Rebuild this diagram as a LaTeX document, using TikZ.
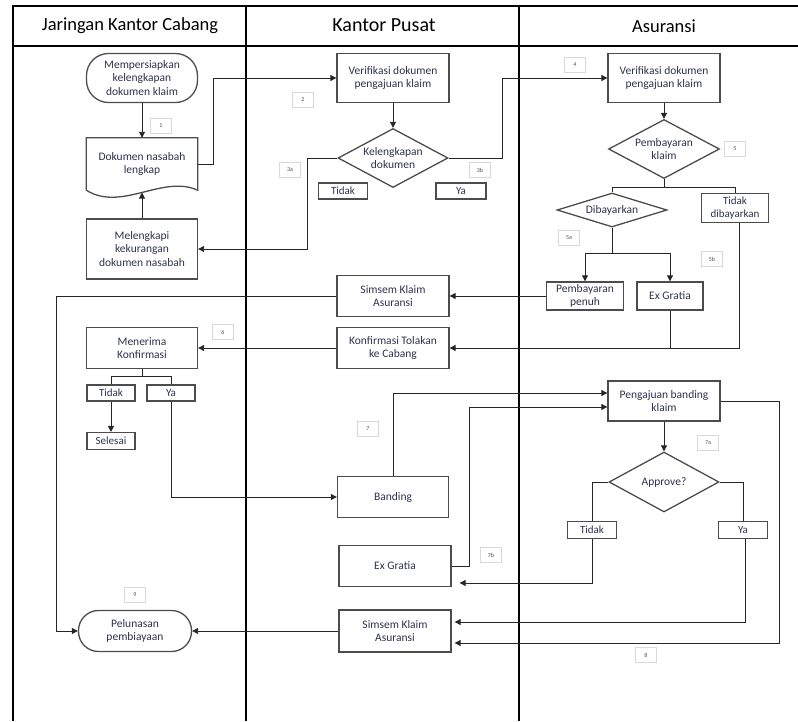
\documentclass[tikz,border=0pt]{standalone}
\usepackage{fontspec}
\setmainfont{Carlito}
\usetikzlibrary{shapes.geometric,arrows.meta}
\definecolor{txtc}{RGB}{45,50,75}

\begin{document}
\begin{tikzpicture}[x=1pt,y=-1pt,
	every node/.style={inner sep=0pt,text=txtc,font=\fontsize{11.5}{13.5}\selectfont,align=center},
	frame/.style={line width=1.6pt,black},
	box/.style={draw=black!70,line width=1.3pt,minimum width=111pt,minimum height=41pt},
	term/.style={box,rounded corners=20pt},
	dec/.style={draw=black!70,line width=1.3pt,diamond,aspect=1.9,minimum width=110pt,minimum height=59pt},
	tag/.style={draw=black!70,line width=1.2pt,minimum width=49pt,minimum height=16pt,font=\fontsize{11}{13}\selectfont},
	num/.style={draw=black!15,line width=0.6pt,minimum width=21pt,minimum height=15pt,font=\fontsize{6}{7}\selectfont,text=black!70},
	conn/.style={line width=0.9pt,black!85},
	arr/.style={conn,-{Triangle[length=6pt,width=6pt]}}]
	\useasboundingbox (0,0) rectangle (798,721);
	\draw[frame] (13,721) -- (13,6) -- (798,6);
	\draw[frame] (13,46) -- (798,46);
	\draw[frame] (246,6) -- (246,721);
	\draw[frame] (519,6) -- (519,721);
	\node[font=\fontsize{18.5}{22}\selectfont,text=black] (hCabang) at (130,26) {Jaringan Kantor Cabang};
	\node[font=\fontsize{20}{24}\selectfont,text=black] (hPusat) at (384,25) {Kantor Pusat};
	\node[font=\fontsize{18.5}{22}\selectfont,text=black] (hAsuransi) at (664,26) {Asuransi};

	\node[term,minimum height=49pt,rounded corners=22pt] (mulai) at (142,78) {Mempersiapkan\\kelengkapan\\dokumen klaim};
	\node[minimum width=111pt,minimum height=52pt] (dokumen) at (142,164) {Dokumen nasabah\\lengkap};
	\draw[draw=black!70,line width=1.3pt] (dokumen.south west) -- (dokumen.north west) -- (dokumen.north east) -- (dokumen.south east)
		.. controls ++(-35,-16) and ++(35,22) .. (dokumen.south west);
	\coordinate (gelombang) at (142,192.5);
	\node[box,minimum height=60pt] (melengkapi) at (142,249) {Melengkapi\\kekurangan\\dokumen nasabah};
	\node[num] (n1) at (161,126) {1};

	\node[box,minimum width=112pt,minimum height=49pt] (verPusat) at (393,78) {Verifikasi dokumen\\pengajuan klaim};
	\node[num] (n2) at (303,100) {2};
	\node[dec] (lengkap) at (393,158) {Kelengkapan\\dokumen};
	\node[tag] (tidakA) at (343,191) {Tidak};
	\node[tag,minimum width=50pt] (yaA) at (461,191) {Ya};
	\node[num] (n3a) at (290,170) {3a};
	\node[num] (n3b) at (480,170) {3b};

	\node[box,minimum width=112pt,minimum height=49pt] (verAsuransi) at (664,78) {Verifikasi dokumen\\pengajuan klaim};
	\node[num] (n4) at (575,65) {4};
	\node[dec,minimum width=111pt] (bayarKlaim) at (664,149) {Pembayaran\\klaim};
	\node[num] (n5) at (735,149) {5};
	\node[dec,aspect=3.2,minimum width=110pt,minimum height=34pt] (dibayar) at (612,210) {Dibayarkan};
	\node[tag,minimum width=67pt,minimum height=29pt] (tidakBayar) at (735,208) {Tidak\\dibayarkan};
	\node[num] (n5a) at (569,238) {5a};
	\node[num] (n5b) at (712,259) {5b};
	\node[box,minimum width=77pt,minimum height=28pt] (penuh) at (585,296) {Pembayaran\\penuh};
	\node[box,minimum width=66pt,minimum height=28pt] (exGratiaA) at (670,296) {Ex Gratia};

	\node[box,minimum width=112pt] (simsemA) at (393,296) {Simsem Klaim\\Asuransi};
	\node[box,minimum width=112pt] (tolakan) at (393,348) {Konfirmasi Tolakan\\ke Cabang};
	\node[box] (menerima) at (142,348) {Menerima\\Konfirmasi};
	\node[num] (n6) at (223,332) {6};
	\node[tag,minimum width=48pt] (tidakB) at (111,393) {Tidak};
	\node[tag,minimum width=48pt] (yaB) at (171,393) {Ya};
	\node[tag,minimum width=48pt,minimum height=17pt] (selesai) at (111,441) {Selesai};

	\node[box] (banding) at (393,497) {Banding};
	\node[num] (n7) at (368,429) {7};
	\node[box,minimum width=112pt] (exGratiaB) at (395,566) {Ex Gratia};
	\node[num] (n7b) at (491,555) {7b};
	\node[box,minimum width=112pt,minimum height=42pt] (simsemB) at (395,631) {Simsem Klaim\\Asuransi};
	\node[term,minimum width=113pt] (pelunasan) at (135,631) {Pelunasan\\pembiayaan};
	\node[num] (n9) at (135,595) {9};

	\node[box,minimum width=112pt,minimum height=40pt] (banding2) at (664,401) {Pengajuan banding\\klaim};
	\node[num] (n7a) at (708,443) {7a};
	\node[dec,minimum height=60pt] (approve) at (664,482) {Approve?};
	\node[tag,minimum height=17pt] (tidakC) at (592,530) {Tidak};
	\node[tag,minimum height=17pt] (yaC) at (743,530) {Ya};
	\node[num] (n8) at (646,655) {8};

	\draw[arr] (mulai) -- (dokumen);
	\draw[arr] (melengkapi) -- (gelombang);
	\draw[arr] (dokumen.east) -- ++(16,0) |- (verPusat.west);
	\draw[arr] (verPusat) -- (lengkap);
	\draw[arr] (lengkap.west) -- ++(-30,0) |- (melengkapi.east);
	\draw[arr] (lengkap.east) -- ++(54,0) |- (verAsuransi.west);
	\draw[arr] (verAsuransi) -- (bayarKlaim);
	\draw[conn] (bayarKlaim.south) -- ++(0,8) -| (dibayar.north);
	\draw[conn] (bayarKlaim.south) -- ++(0,8) -| (tidakBayar.north);
	\draw[arr] (dibayar.south) -- ++(0,26) -| (penuh.north);
	\draw[arr] (dibayar.south) -- ++(0,26) -| (exGratiaA.north);
	\draw[arr] (penuh.west) -- (simsemA.east);
	\draw[arr] ([xshift=4pt]tidakBayar.south) |- (tolakan.east);
	\draw[conn] (exGratiaA.south) -- (exGratiaA.south |- tolakan.east);
	\draw[arr] (tolakan.west) -- (menerima.east);
	\draw[arr] (simsemA.west) -| ([xshift=-21pt]pelunasan.west) -- (pelunasan.west);
	\draw[conn] (menerima.south) -- ++(0,7) -| (tidakB.north);
	\draw[conn] (menerima.south) -- ++(0,7) -| (yaB.north);
	\draw[arr] (tidakB) -- (selesai);
	\draw[arr] (yaB.south) |- (banding.west);
	\draw[arr] (banding.north) |- ([yshift=8pt]banding2.west);
	\draw[arr] (exGratiaB.east) -- ++(18,0) |- ([yshift=-6pt]banding2.west);
	\draw[arr] (banding2) -- (approve);
	\draw[conn] (approve.west) -| (tidakC.north);
	\draw[conn] (approve.east) -| (yaC.north);
	\draw[arr] (tidakC.south) |- ([xshift=8pt,yshift=-17pt]exGratiaB.east);
	\draw[arr] ([xshift=2pt]yaC.south) |- ([xshift=3pt,yshift=9pt]simsemB.east);
	\draw[arr] (banding2.east) -- ++(59,0) |- ([xshift=3pt,yshift=-12pt]simsemB.east);
	\draw[arr] (simsemB.west) -- (pelunasan.east);
\end{tikzpicture}
\end{document}
